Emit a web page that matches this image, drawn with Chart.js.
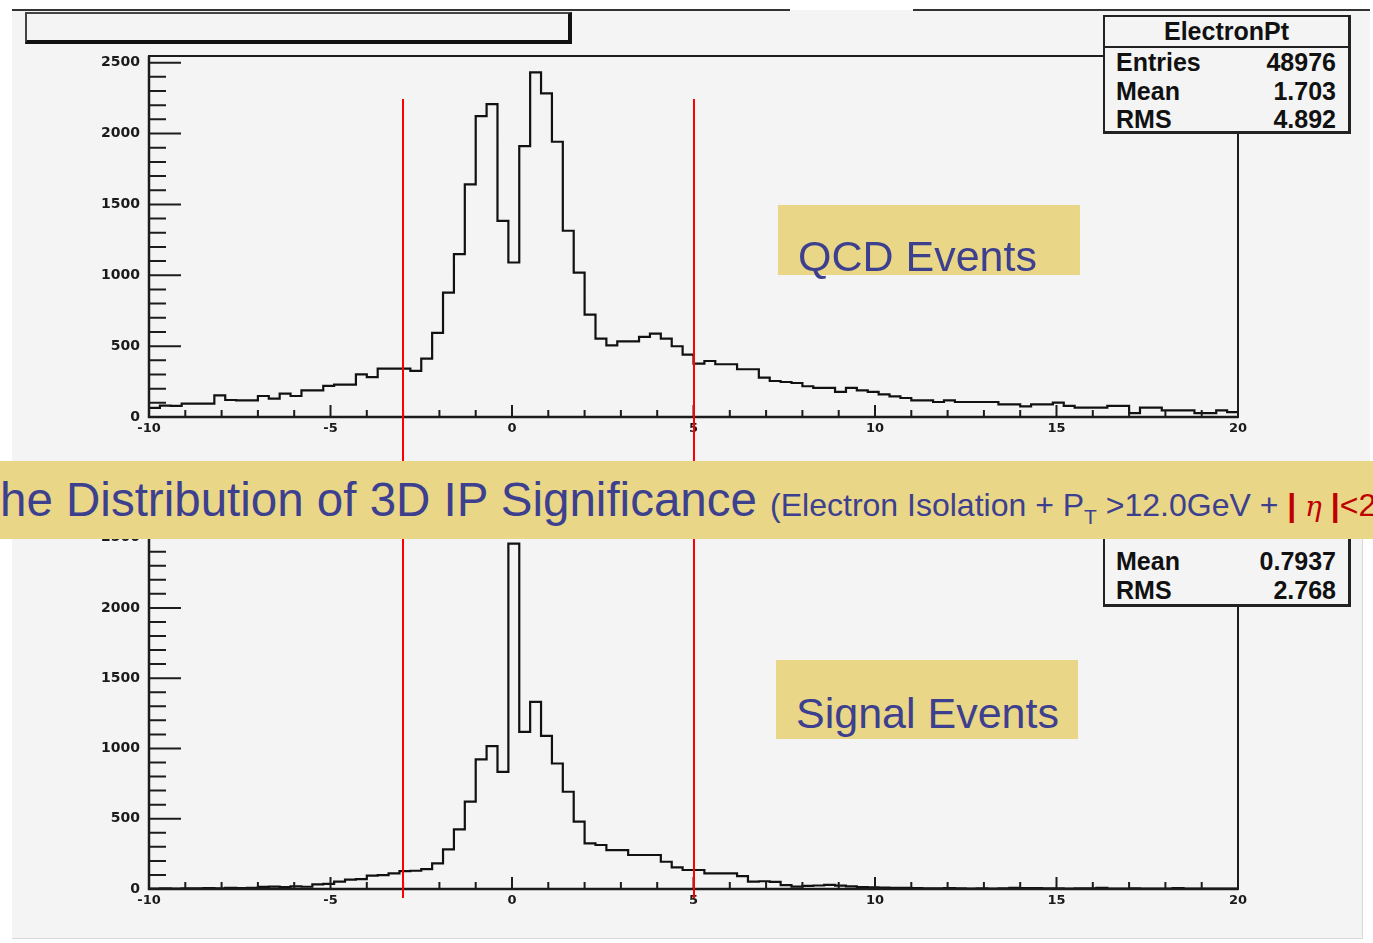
<!DOCTYPE html>
<html>
<head>
<meta charset="utf-8">
<title>3D IP Significance</title>
<script src="https://cdn.jsdelivr.net/npm/chart.js@4.4.1/dist/chart.umd.min.js"></script>
<style>
body { margin:0; width:1373px; height:943px; background:#fff; position:relative; overflow:hidden; font-family:"Liberation Sans", Arial, sans-serif; }
.abs { position:absolute; }
#padTop { left:12px; top:10px; width:1358px; height:451px; background:#f4f4f4; }
#padBottom { left:12px; top:539px; width:1350px; height:399px; background:#f4f4f4; border-right:1px solid #d8d8d8; border-bottom:1px solid #d8d8d8; }
.rule { height:2px; background:#333; top:9px; }
#titleBox { left:25px; top:12px; width:541px; height:26px; background:#f4f4f4; border:2px solid #444; border-right:4px solid #111; border-bottom:4px solid #111; }
canvas { position:absolute; left:0; }
.stats { background:#f4f4f4; border:2px solid #222; border-right-width:3px; border-bottom-width:3px; font-weight:bold; font-size:25px; color:#111; box-sizing:border-box; }
.stats .row { position:absolute; left:11px; right:12px; height:29px; line-height:29px; }
.stats .row b { float:right; }
.stats .head { position:absolute; left:0; right:0; top:0; height:29px; line-height:29px; text-align:center; border-bottom:2px solid #222; }
.tag { background:#e9d687; color:#3d3f8f; font-size:43px; }
.tag span { position:absolute; left:20px; white-space:nowrap; line-height:43px; }
#banner { left:0; top:461px; width:1373px; height:78px; background:#e9d687; overflow:hidden; color:#3d3f8f; }
#banner .line { position:absolute; left:-29px; top:0; height:78px; line-height:78px; font-size:47.5px; white-space:nowrap; }
#banner .small { font-size:32px; }
#banner sub { font-size:21px; vertical-align:-8px; line-height:0; }
#banner .red { color:#c00000; }
#banner .bar { font-weight:bold; }
#banner .eta { font-family:"DejaVu Serif", serif; font-style:italic; font-size:28px; }
</style>
</head>
<body>
<div id="padTop" class="abs"></div>
<div id="padBottom" class="abs"></div>
<div class="abs rule" style="left:12px;width:778px"></div>
<div class="abs rule" style="left:913px;width:457px"></div>
<div id="titleBox" class="abs"></div>

<canvas id="qcdChart" width="1373" height="461" style="top:0"></canvas>
<canvas id="signalChart" width="1373" height="482" style="top:461px"></canvas>

<div class="abs stats" style="left:1103px;top:15px;width:248px;height:119px">
  <div class="head">ElectronPt</div>
  <div class="row" style="top:31px">Entries<b>48976</b></div>
  <div class="row" style="top:60px">Mean<b>1.703</b></div>
  <div class="row" style="top:88px">RMS<b>4.892</b></div>
</div>
<div class="abs stats" style="left:1103px;top:520px;width:248px;height:87px">
  <div class="row" style="top:25px">Mean<b>0.7937</b></div>
  <div class="row" style="top:54px">RMS<b>2.768</b></div>
</div>

<div class="abs tag" style="left:778px;top:205px;width:302px;height:70px"><span style="top:30px">QCD Events</span></div>
<div class="abs tag" style="left:776px;top:660px;width:302px;height:79px"><span style="top:32px">Signal Events</span></div>

<div id="banner" class="abs">
  <div class="line">The Distribution of 3D IP Significance <span class="small">(Electron Isolation + P<sub>T</sub> &gt;12.0GeV + <span class="red"><span class="bar">|</span> <span class="eta">η</span> <span class="bar">|</span>&lt;2</span></span></div>
</div>

<script>
// 100 bins from -10 to 20
const binLow = -10;
const binHigh = 20;
const nBins = 100;
const binWidth = (binHigh - binLow) / nBins;

const qcdCounts = [
  65, 80, 78, 95, 95, 95, 153, 120, 118, 118,
  148, 130, 165, 148, 188, 188, 219, 228, 228, 301,
  282, 341, 341, 341, 325, 412, 593, 878, 1149, 1641,
  2123, 2208, 1384, 1090, 1911, 2432, 2283, 1942, 1314, 1019,
  723, 553, 506, 534, 534, 565, 588, 553, 499, 440,
  377, 395, 372, 372, 337, 337, 278, 254, 247, 240,
  217, 205, 205, 177, 205, 188, 177, 160, 146, 134,
  118, 118, 106, 118, 106, 106, 106, 106, 89, 89,
  75, 89, 89, 101, 78, 66, 66, 66, 78, 78,
  28, 66, 66, 47, 47, 47, 28, 28, 47, 35
];

const signalCounts = [
  2, 4, 3, 5, 4, 6, 5, 8, 7, 9,
  15, 17, 14, 18, 16, 33, 36, 52, 66, 70,
  95, 99, 111, 127, 130, 142, 182, 282, 424, 621,
  922, 1017, 834, 2457, 1118, 1332, 1090, 893, 692, 479,
  325, 313, 277, 277, 242, 242, 242, 194, 154, 135,
  135, 111, 111, 111, 92, 52, 55, 50, 28, 17,
  22, 25, 30, 24, 18, 14, 12, 10, 8, 9,
  6, 5, 4, 6, 5, 3, 4, 3, 5, 8,
  7, 6, 5, 4, 3, 5, 4, 8, 3, 2,
  4, 3, 2, 3, 6, 2, 3, 2, 3, 2
];

const xTicks = [-10, -5, 0, 5, 10, 15, 20];
const yTicks = [0, 500, 1000, 1500, 2000, 2500];
const yMax = 2547;
const cutValues = [-3, 5];

// left bin edges carry the bin content, last point closes the final bin
function stepPoints(counts) {
  const pts = counts.map((c, i) => ({ x: binLow + i * binWidth, y: c }));
  pts.push({ x: binHigh, y: counts[counts.length - 1] });
  return pts;
}

// ROOT style frame: inward ticks, minor every 1 / 100, plus the red cut lines
const rootFrame = {
  id: 'rootFrame',
  afterDatasetsDraw(chart, args, opts) {
    const { ctx, chartArea: a, scales: { x, y } } = chart;
    ctx.save();
    ctx.strokeStyle = '#1c1c1c';
    ctx.lineWidth = 2;
    ctx.beginPath();
    ctx.rect(a.left, a.top, a.right - a.left, a.bottom - a.top);
    for (let v = binLow; v <= binHigh; v++) {
      const px = x.getPixelForValue(v);
      ctx.moveTo(px, a.bottom);
      ctx.lineTo(px, a.bottom - (v % 5 === 0 ? 12 : 7));
    }
    for (let v = 0; v <= 2500; v += 100) {
      const py = y.getPixelForValue(v);
      ctx.moveTo(a.left, py);
      ctx.lineTo(a.left + (v % 500 === 0 ? 32 : 17), py);
    }
    ctx.stroke();

    ctx.lineWidth = 2.5;
    ctx.beginPath();
    ctx.moveTo(a.left, a.top);
    ctx.lineTo(a.left, a.bottom);
    ctx.lineTo(a.right, a.bottom);
    ctx.stroke();

    ctx.strokeStyle = '#ff0000';
    ctx.lineWidth = 2;
    const top = opts.cutFrom != null ? y.getPixelForValue(opts.cutFrom) : 0;
    const bottom = opts.cutBelowAxis != null ? a.bottom + opts.cutBelowAxis : chart.height;
    ctx.beginPath();
    cutValues.forEach(v => {
      const px = Math.round(x.getPixelForValue(v));
      ctx.moveTo(px, top);
      ctx.lineTo(px, bottom);
    });
    ctx.stroke();
    ctx.restore();
  }
};

function makeHist(canvasId, counts, padding, frameOpts) {
  return new Chart(document.getElementById(canvasId), {
    type: 'line',
    data: {
      datasets: [{
        data: stepPoints(counts),
        stepped: true,
        borderColor: '#111',
        borderWidth: 2.2,
        pointRadius: 0,
        fill: false
      }]
    },
    options: {
      responsive: false,
      animation: false,
      layout: { padding: padding },
      plugins: {
        legend: { display: false },
        tooltip: { enabled: false },
        rootFrame: frameOpts
      },
      scales: {
        x: {
          type: 'linear',
          min: binLow,
          max: binHigh,
          grid: { display: false, drawTicks: false },
          border: { display: false },
          afterBuildTicks: s => { s.ticks = xTicks.map(v => ({ value: v })); },
          afterFit: s => { s.height = 30; },
          ticks: {
            padding: 4,
            maxRotation: 0,
            autoSkip: false,
            color: '#1a1a1a',
            callback: v => String(v),
            font: { family: 'DejaVu Sans', size: 13, weight: 'bold' }
          }
        },
        y: {
          min: 0,
          max: yMax,
          grid: { display: false, drawTicks: false },
          border: { display: false },
          afterBuildTicks: s => { s.ticks = yTicks.map(v => ({ value: v })); },
          afterFit: s => { s.width = 149; },
          ticks: {
            padding: 9,
            color: '#1a1a1a',
            callback: v => String(v),
            font: { family: 'DejaVu Sans', size: 14, weight: 'bold' }
          }
        }
      }
    },
    plugins: [rootFrame]
  });
}

makeHist('qcdChart', qcdCounts, { top: 56, right: 135, bottom: 14, left: 0 }, { cutFrom: 2244 });
makeHist('signalChart', signalCounts, { top: 70, right: 135, bottom: 24, left: 0 }, { cutBelowAxis: 9 });
</script>
</body>
</html>
